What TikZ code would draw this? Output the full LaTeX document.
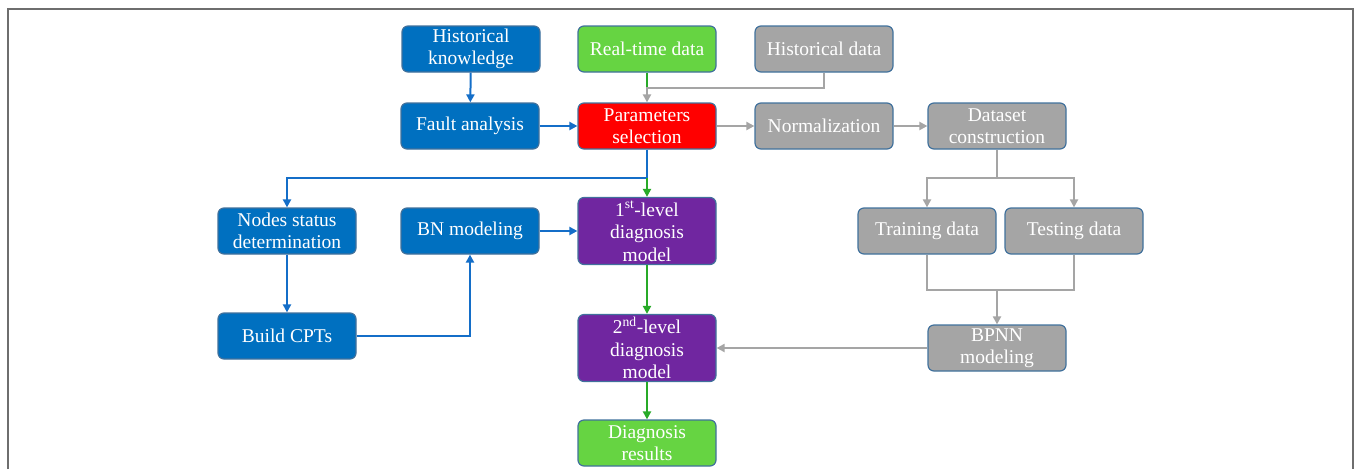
\documentclass[tikz,border=0pt]{standalone}
\usepackage{fontspec}
\setmainfont{Liberation Serif}
\usetikzlibrary{arrows.meta}

\definecolor{boxblue}{RGB}{0,112,192}
\definecolor{boxgreen}{RGB}{102,212,66}
\definecolor{boxgray}{RGB}{165,165,165}
\definecolor{boxred}{RGB}{255,0,0}
\definecolor{boxpurple}{RGB}{112,38,160}
\definecolor{edgeblue}{RGB}{65,113,156}
\definecolor{lineblue}{RGB}{20,110,200}
\definecolor{linegreen}{RGB}{40,170,40}
\definecolor{linegray}{RGB}{165,165,165}
\definecolor{framegray}{RGB}{110,110,110}

\tikzset{
  box/.style={draw=edgeblue, line width=1.2pt, rounded corners=6pt,
    minimum width=138pt, minimum height=46pt, inner sep=1pt,
    align=center, text=white, font=\fontsize{19.5}{22.5}\selectfont},
  bluebox/.style={box, fill=boxblue},
  greenbox/.style={box, fill=boxgreen},
  graybox/.style={box, fill=boxgray},
  redbox/.style={box, fill=boxred},
  purplebox/.style={box, fill=boxpurple, minimum height=67pt},
  bl/.style={draw=lineblue, line width=2pt},
  gl/.style={draw=linegreen, line width=2pt},
  yl/.style={draw=linegray, line width=2pt},
  >={Triangle[length=8pt,width=8pt]}
}

\begin{document}
\begin{tikzpicture}[x=1pt,y=-1pt]
\useasboundingbox (0,0) rectangle (1356,469);

% frame:
\draw[framegray, line width=1.8pt] (8,469) -- (8,9) -- (1353,9) -- (1353,469);

% top rows:
\node[bluebox] (hk) at (471,49) {Historical\\knowledge};
\node[greenbox] (rt) at (647,49) {Real-time data};
\node[graybox] (hd) at (824,49) {Historical data};
\node[bluebox] (fa) at (470,126) {Fault analysis};
\node[redbox] (ps) at (647,126) {Parameters\\selection};
\node[graybox] (nm) at (824,126) {Normalization};
\node[graybox] (ds) at (997,126) {Dataset\\construction};

% BN branch:
\node[bluebox] (ns) at (287,231) {Nodes status\\determination};
\node[bluebox] (bn) at (470,231) {BN modeling};
\node[bluebox] (cp) at (287,336) {Build CPTs};

% diagnosis chain:
\node[purplebox] (l1) at (647,231) {1\textsuperscript{st}-level\\diagnosis\\model};
\node[purplebox] (l2) at (647,348) {2\textsuperscript{nd}-level\\diagnosis\\model};
\node[greenbox] (dr) at (647,443) {Diagnosis\\results};

% BPNN branch:
\node[graybox] (tr) at (927,231) {Training data};
\node[graybox] (te) at (1074,231) {Testing data};
\node[graybox] (bp) at (997,348) {BPNN\\modeling};

\coordinate (jn) at (647,88);
\coordinate (sp) at (647,178);
\coordinate (dsp) at (997,178);
\coordinate (mg) at (997,290);

% connectors:
\draw[bl,->] (hk) -- (fa);
\draw[bl,->] (fa) -- (ps);
\draw[gl] (rt.south) -- (jn);
\draw[yl,->] (hd.south) |- (jn) -- (ps.north);
\draw[yl,->] (ps) -- (nm);
\draw[yl,->] (nm) -- (ds);
\draw[bl] (ps.south) -- (sp);
\draw[bl,->] (sp) -| (ns.north);
\draw[gl,->] (sp) -- (l1.north);
\draw[bl,->] (ns) -- (cp);
\draw[bl,->] (cp) -| (bn.south);
\draw[bl,->] (bn) -- (l1);
\draw[gl,->] (l1) -- (l2);
\draw[gl,->] (l2) -- (dr);
\draw[yl] (ds.south) -- (dsp);
\draw[yl,->] (dsp) -| (tr.north);
\draw[yl,->] (dsp) -| (te.north);
\draw[yl] (tr.south) |- (mg) -| (te.south);
\draw[yl,->] (mg) -- (bp.north);
\draw[yl,->] (bp) -- (l2);
\end{tikzpicture}
\end{document}
